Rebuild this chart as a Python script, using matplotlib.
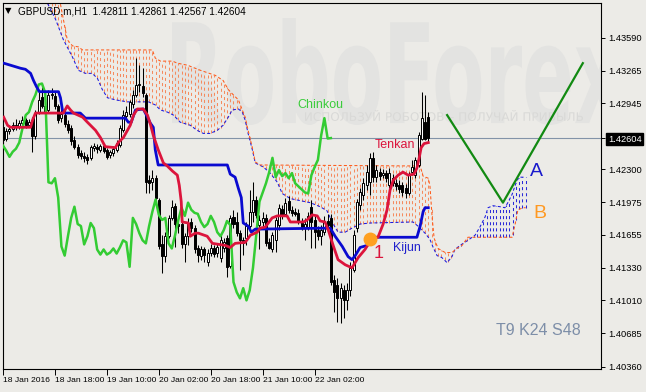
import numpy as np
import matplotlib
matplotlib.use("Agg")
import matplotlib.pyplot as plt
from matplotlib.textpath import TextPath
from matplotlib.patches import PathPatch
from matplotlib.font_manager import FontProperties
from matplotlib.transforms import Affine2D

plt.rcParams['font.family'] = ['Liberation Sans', 'DejaVu Sans']
plt.rcParams['lines.scale_dashes'] = False

SHIFT = 30

# hourly candles, GBPUSD
opens = [1.4271, 1.4260, 1.4267, 1.4269, 1.4273, 1.4271, 1.4275, 1.4278, 1.4273, 1.4278,
         1.4262, 1.4286, 1.4301, 1.4292, 1.4288, 1.4303, 1.4302, 1.4292, 1.4280, 1.4283,
         1.4274, 1.4270, 1.4259, 1.4252, 1.4246, 1.4243, 1.4242, 1.4241, 1.4251, 1.4252,
         1.4249, 1.4253, 1.4249, 1.4244, 1.4246, 1.4249, 1.4254, 1.4268, 1.4282, 1.4284,
         1.4294, 1.4303, 1.4313, 1.4312, 1.4303, 1.4219, 1.4217, 1.4221, 1.4200, 1.4156,
         1.4145, 1.4164, 1.4182, 1.4194, 1.4176, 1.4176, 1.4156, 1.4164, 1.4178, 1.4172,
         1.4152, 1.4145, 1.4151, 1.4139, 1.4148, 1.4152, 1.4148, 1.4143, 1.4152, 1.4162,
         1.4135, 1.4183, 1.4178, 1.4167, 1.4160, 1.4162, 1.4174, 1.4188, 1.4200, 1.4175,
         1.4178, 1.4182, 1.4158, 1.4151, 1.4160, 1.4175, 1.4191, 1.4186, 1.4199, 1.4190,
         1.4188, 1.4187, 1.4178, 1.4172, 1.4172, 1.4193, 1.4180, 1.4170, 1.4164, 1.4168,
         1.4179, 1.4182, 1.4121, 1.4116, 1.4103, 1.4111, 1.4101, 1.4111, 1.4131, 1.4172,
         1.4195, 1.4205, 1.4214, 1.4217, 1.4241, 1.4222, 1.4227, 1.4224, 1.4226, 1.4214,
         1.4221, 1.4216, 1.4214, 1.4214, 1.4211, 1.4206, 1.4227, 1.4224, 1.4234, 1.4260,
         1.4276, 1.42811]
highs = [1.4274, 1.4270, 1.4273, 1.4276, 1.4279, 1.4278, 1.4282, 1.4280, 1.4279, 1.4281,
         1.4288, 1.4306, 1.4311, 1.4300, 1.4308, 1.4310, 1.4306, 1.4294, 1.4290, 1.4288,
         1.4278, 1.4273, 1.4262, 1.4255, 1.4249, 1.4247, 1.4245, 1.4254, 1.4256, 1.4255,
         1.4255, 1.4256, 1.4251, 1.4249, 1.4253, 1.4259, 1.4273, 1.4288, 1.4292, 1.4298,
         1.4308, 1.4339, 1.4332, 1.4329, 1.4305, 1.4224, 1.4229, 1.4224, 1.4202, 1.4165,
         1.4168, 1.4185, 1.4200, 1.4197, 1.4180, 1.4180, 1.4167, 1.4182, 1.4182, 1.4175,
         1.4155, 1.4154, 1.4153, 1.4151, 1.4156, 1.4155, 1.4156, 1.4167, 1.4162, 1.4165,
         1.4185, 1.4190, 1.4188, 1.4170, 1.4163, 1.4178, 1.4209, 1.4217, 1.4204, 1.4185,
         1.4188, 1.4186, 1.4162, 1.4168, 1.4183, 1.4196, 1.4195, 1.4202, 1.4204, 1.4194,
         1.4192, 1.4191, 1.4182, 1.4182, 1.4188, 1.4200, 1.4185, 1.4174, 1.4175, 1.4184,
         1.4186, 1.4186, 1.4126, 1.4123, 1.4118, 1.4116, 1.4118, 1.4139, 1.4170, 1.4201,
         1.4211, 1.4221, 1.4234, 1.4246, 1.4247, 1.4234, 1.4231, 1.4230, 1.4229, 1.4231,
         1.4225, 1.4220, 1.4219, 1.4217, 1.4215, 1.4227, 1.4239, 1.4242, 1.4266, 1.4306,
         1.4303, 1.42861]
lows = [1.4253, 1.4258, 1.4264, 1.4267, 1.4268, 1.4269, 1.4272, 1.4270, 1.4271, 1.4247,
        1.4260, 1.4284, 1.4290, 1.4283, 1.4286, 1.4299, 1.4289, 1.4275, 1.4276, 1.4271,
        1.4265, 1.4254, 1.4250, 1.4241, 1.4240, 1.4237, 1.4235, 1.4239, 1.4248, 1.4246,
        1.4247, 1.4246, 1.4240, 1.4241, 1.4243, 1.4247, 1.4252, 1.4266, 1.4279, 1.4281,
        1.4290, 1.4301, 1.4306, 1.4301, 1.4206, 1.4206, 1.4209, 1.4200, 1.4151, 1.4128,
        1.4139, 1.4162, 1.4180, 1.4153, 1.4167, 1.4152, 1.4139, 1.4155, 1.4168, 1.4148,
        1.4139, 1.4141, 1.4139, 1.4135, 1.4145, 1.4144, 1.4144, 1.4139, 1.4149, 1.4124,
        1.4133, 1.4172, 1.4164, 1.4131, 1.4146, 1.4155, 1.4172, 1.4178, 1.4182, 1.4151,
        1.4172, 1.4154, 1.4151, 1.4149, 1.4149, 1.4170, 1.4181, 1.4184, 1.4187, 1.4184,
        1.4184, 1.4176, 1.4170, 1.4160, 1.4170, 1.4152, 1.4152, 1.4160, 1.4155, 1.4165,
        1.4168, 1.4116, 1.4090, 1.4080, 1.4079, 1.4084, 1.4092, 1.4105, 1.4129, 1.4168,
        1.4190, 1.4200, 1.4209, 1.4205, 1.4217, 1.4217, 1.4219, 1.4221, 1.4217, 1.4211,
        1.4213, 1.4209, 1.4206, 1.4204, 1.4202, 1.4205, 1.4224, 1.4221, 1.4232, 1.4259,
        1.4259, 1.42567]
closes = [1.4259, 1.4267, 1.4269, 1.4273, 1.4271, 1.4275, 1.4278, 1.4273, 1.4276, 1.4262,
          1.4285, 1.4298, 1.4292, 1.4286, 1.4303, 1.4304, 1.4292, 1.4278, 1.4284, 1.4274,
          1.4268, 1.4258, 1.4252, 1.4244, 1.4243, 1.4241, 1.4239, 1.4252, 1.4253, 1.4250,
          1.4253, 1.4248, 1.4242, 1.4247, 1.4250, 1.4256, 1.4270, 1.4283, 1.4286, 1.4296,
          1.4303, 1.4313, 1.4314, 1.4305, 1.4217, 1.4216, 1.4221, 1.4202, 1.4154, 1.4145,
          1.4164, 1.4182, 1.4193, 1.4176, 1.4174, 1.4156, 1.4164, 1.4177, 1.4172, 1.4151,
          1.4146, 1.4151, 1.4146, 1.4148, 1.4152, 1.4147, 1.4153, 1.4160, 1.4158, 1.4134,
          1.4182, 1.4176, 1.4167, 1.4160, 1.4157, 1.4174, 1.4188, 1.4200, 1.4185, 1.4180,
          1.4182, 1.4157, 1.4152, 1.4165, 1.4180, 1.4192, 1.4184, 1.4197, 1.4190, 1.4187,
          1.4186, 1.4178, 1.4173, 1.4176, 1.4184, 1.4178, 1.4168, 1.4164, 1.4170, 1.4179,
          1.4175, 1.4119, 1.4109, 1.4103, 1.4113, 1.4101, 1.4111, 1.4133, 1.4165, 1.4198,
          1.4207, 1.4216, 1.4227, 1.4241, 1.4222, 1.4229, 1.4223, 1.4226, 1.4221, 1.4226,
          1.4216, 1.4213, 1.4210, 1.4207, 1.4206, 1.4224, 1.4232, 1.4239, 1.4263, 1.4280,
          1.4260, 1.42604]

# ichimoku lines (bar index, price)
tenkan_x = [0.2, 1.4, 2.3, 8.5, 9.1, 10.0, 18.6, 19.8, 20.8, 21.7, 24.5, 26.0, 28.5, 30.0, 31.5,
            34.6, 35.5, 37.1, 39.2, 40.2, 41.4, 43.2, 44.5, 45.4, 46.3, 47.8, 49.4, 50.6, 52.2, 53.7,
            54.3, 54.9, 55.2, 57.1, 57.7, 59.2, 60.2, 62.9, 64.5, 68.5, 70.0, 71.5, 74.6, 76.2, 78.3,
            79.2, 80.8, 82.9, 84.5, 87.5, 88.5, 92.5, 93.7, 95.2, 96.8, 97.7, 99.2, 100.2, 101.7, 103.2,
            105.4, 107.5, 109.4, 111.5, 113.7, 115.5, 117.1, 118.3, 119.2, 120.2, 121.7, 123.2, 124.8,
            126.6, 127.5, 128.2, 128.8, 129.7, 131.0]
tenkan = [1.4281, 1.4273, 1.4271, 1.4271, 1.4278, 1.4285, 1.4285, 1.4292, 1.4288, 1.4285, 1.4281,
          1.4276, 1.4268, 1.4261, 1.4252, 1.4251, 1.4256, 1.4261, 1.4273, 1.4283, 1.4289, 1.4289,
          1.4283, 1.4274, 1.4263, 1.4249, 1.4236, 1.4233, 1.4228, 1.4224, 1.4214, 1.4198, 1.4178,
          1.4177, 1.4164, 1.4167, 1.4167, 1.4164, 1.4157, 1.4155, 1.4153, 1.4157, 1.4158, 1.4165,
          1.4168, 1.4172, 1.4173, 1.4182, 1.4184, 1.4184, 1.4178, 1.4178, 1.4180, 1.4185, 1.4184,
          1.4179, 1.4178, 1.4170, 1.4155, 1.4141, 1.4136, 1.4133, 1.4143, 1.4151, 1.4162, 1.4163,
          1.4176, 1.4190, 1.4209, 1.4219, 1.4224, 1.4227, 1.4224, 1.4225, 1.4231, 1.4241, 1.4251,
          1.4255, 1.4256]

kijun_x = [0.2, 2.3, 5.4, 6.9, 8.5, 9.4, 10.3, 11.2, 17.1, 17.7, 18.3, 18.9, 23.8, 25.4, 37.7,
           38.6, 39.5, 40.8, 43.2, 44.5, 45.4, 46.3, 46.9, 47.8, 69.1, 70.0, 71.5, 72.5, 73.4, 74.0,
           75.5, 76.5, 77.7, 100.8, 102.3, 104.5, 106.3, 107.5, 108.5, 110.0, 112.2, 113.7, 127.5,
           128.5, 129.4, 130.0, 131.0]
kijun = [1.4334, 1.4332, 1.4329, 1.4328, 1.4324, 1.4317, 1.4311, 1.4306, 1.4306, 1.4300, 1.4288,
         1.4285, 1.4285, 1.4280, 1.4280, 1.4276, 1.4276, 1.4288, 1.4289, 1.4281, 1.4275, 1.4271,
         1.4249, 1.4234, 1.4234, 1.4225, 1.4222, 1.4211, 1.4202, 1.4177, 1.4174, 1.4168, 1.4171,
         1.4172, 1.4164, 1.4154, 1.4144, 1.4141, 1.4145, 1.4153, 1.4155, 1.4163, 1.4163, 1.4174,
         1.4188, 1.4192, 1.4192]

span_a_x = [0, 8.5, 11.5, 14.0, 16.2, 18.6, 21.4, 23.2, 25.4, 27.5, 29.1, 30.6, 32.2, 34.6, 38.3,
            44.8, 46.9, 48.5, 50.6, 52.5, 54.6, 57.7, 59.8, 61.7, 63.8, 66.0, 67.8, 69.4, 70.6, 72.5,
            73.7, 74.6, 75.5, 76.8, 77.7, 80.2, 82.3, 84.5, 86.0, 88.5, 91.5, 94.6, 97.7, 99.8, 101.7,
            103.2, 105.4, 107.5, 110.0, 113.1, 126.3, 127.8, 130.0, 131.5, 132.5, 133.7, 135.2, 136.8,
            138.3, 139.2, 140.8, 143.2, 145.4, 146.9, 148.5, 149.4, 150.9, 153.1, 154.6, 155.5, 156.8,
            158.3, 159.2, 161.0]
span_a = [1.4477, 1.4437, 1.4405, 1.4391, 1.4377, 1.4357, 1.4340, 1.4327, 1.4324, 1.4324, 1.4319,
          1.4308, 1.4300, 1.4298, 1.4296, 1.4296, 1.4293, 1.4288, 1.4286, 1.4283, 1.4276, 1.4273,
          1.4268, 1.4265, 1.4265, 1.4268, 1.4273, 1.4281, 1.4288, 1.4289, 1.4286, 1.4278, 1.4265,
          1.4249, 1.4236, 1.4232, 1.4226, 1.4217, 1.4206, 1.4201, 1.4199, 1.4197, 1.4193, 1.4189,
          1.4176, 1.4168, 1.4168, 1.4172, 1.4176, 1.4177, 1.4178, 1.4174, 1.4167, 1.4161, 1.4153,
          1.4145, 1.4143, 1.4138, 1.4144, 1.4151, 1.4155, 1.4160, 1.4165, 1.4173, 1.4183, 1.4192,
          1.4194, 1.4193, 1.4192, 1.4197, 1.4205, 1.4219, 1.4222, 1.4222]

span_b_x = [0, 14.6, 17.1, 18.3, 19.5, 19.8, 21.4, 23.2, 24.5, 46.0, 46.9, 48.5, 52.2, 53.7, 56.8,
            60.8, 65.4, 67.8, 69.4, 70.9, 72.5, 73.7, 74.6, 75.5, 76.8, 77.7, 79.2, 128.5, 129.4,
            131.0, 131.5, 132.2, 132.8, 134.0, 136.2, 138.3, 139.8, 141.4, 143.2, 156.8, 157.7,
            158.6, 160.2, 161.0]
span_b = [1.4497, 1.4437, 1.4402, 1.4382, 1.4362, 1.4357, 1.4351, 1.4350, 1.4347, 1.4347, 1.4339,
          1.4336, 1.4336, 1.4334, 1.4332, 1.4327, 1.4322, 1.4317, 1.4308, 1.4303, 1.4298, 1.4288,
          1.4281, 1.4268, 1.4251, 1.4237, 1.4234, 1.4233, 1.4223, 1.4221, 1.4214, 1.4182, 1.4162,
          1.4152, 1.4148, 1.4148, 1.4152, 1.4155, 1.4163, 1.4163, 1.4175, 1.4190, 1.4192, 1.4192]

# forecast drawn on the chart
forecast_x = [136.8, 154.0, 178.6]
forecast_y = [1.4283, 1.4197, 1.4334]

last_price = 1.42604
ytick_vals = [1.43590, 1.43265, 1.42945, 1.42604, 1.42300, 1.41975, 1.41655,
              1.41330, 1.41010, 1.40685, 1.40360]
xtick_idx = [0, 16, 32, 48, 64, 80, 96]
xtick_labels = ["18 Jan 2016", "18 Jan 18:00", "19 Jan 10:00", "20 Jan 02:00",
                "20 Jan 18:00", "21 Jan 10:00", "22 Jan 02:00"]

BG = '#ecebe7'
W, H = 646, 392

fig = plt.figure(figsize=(W / 100, H / 100), dpi=100, facecolor=BG)
ax = fig.add_axes([3 / W, 23 / H, 598 / W, 366 / H], facecolor=BG)

# watermark
wm = TextPath((0, 0), "RoboForex", size=100,
              prop=FontProperties(family="DejaVu Sans", weight="bold"))
bb = wm.get_extents()
tr = Affine2D().translate(-bb.x0, -bb.y0).scale(450 / bb.width, 107 / bb.height).translate(172, H - 125)
ax.add_patch(PathPatch(wm, transform=tr, facecolor='#e3e3e1', edgecolor='none', zorder=0))
wm2 = TextPath((0, 0), "ИСПОЛЬЗУЙ РОБОТОВ – ПОЛУЧАЙ ПРИБЫЛЬ", size=100,
               prop=FontProperties(family="DejaVu Sans"))
bb2 = wm2.get_extents()
tr2 = Affine2D().translate(-bb2.x0, -bb2.y0).scale(278 / bb2.width, 11 / bb2.height).translate(305, H - 121)
ax.add_patch(PathPatch(wm2, transform=tr2, facecolor='#d9d9d7', edgecolor='none', zorder=0))

idx = np.arange(len(closes))
o = np.array(opens)
c = np.array(closes)

# cloud hatch
bars = np.arange(0, 162)
a = np.interp(bars, span_a_x, span_a)
b = np.interp(bars, span_b_x, span_b)
up = b >= a
ax.vlines(bars[up], a[up], b[up], colors='#f58a5e', lw=0.75, linestyles=(0, (2.2, 2.2)), zorder=1)
ax.vlines(bars[~up], b[~up], a[~up], colors='#2a2ad8', lw=0.75, linestyles=(0, (2.2, 2.2)), zorder=1)
ax.plot(span_a_x, span_a, color='#1a1ae0', lw=0.75, ls=(0, (2.2, 1.6)), zorder=2)
ax.plot(span_b_x, span_b, color='#ff5a1a', lw=0.75, ls=(0, (2.2, 1.6)), zorder=2)

ax.axhline(last_price, color='#8293a8', lw=0.8, zorder=1.5)

# candles
ax.vlines(idx, lows, highs, color='black', lw=0.75, zorder=3)
bull = c >= o
ax.bar(idx[bull], c[bull] - o[bull], bottom=o[bull], width=0.62, color='white',
       edgecolor='black', lw=0.7, zorder=3.2)
ax.bar(idx[~bull], o[~bull] - c[~bull], bottom=c[~bull], width=0.62, color='black',
       edgecolor='black', lw=0.7, zorder=3.2)

# tenkan / kijun / chinkou
ax.plot(idx[SHIFT:] - SHIFT, c[SHIFT:], color='#33cc33', lw=1.8, zorder=4)
ax.plot(kijun_x, kijun, color='#0a0ad0', lw=2.0, zorder=4.1)
ax.plot(tenkan_x, tenkan, color='#dc143c', lw=2.0, zorder=4.2)

ax.plot(forecast_x, forecast_y, color='#128a12', lw=1.6, zorder=5)
ax.plot([113.1], [1.4161], 'o', ms=9, color='#ffa020', zorder=4.5)

ax.text(97.7, 1.4293, "Chinkou", color='#3ccc3c', fontsize=9, ha='center', va='center', zorder=6)
ax.text(120.8, 1.4254, "Tenkan", color='#dc143c', fontsize=9, ha='center', va='center', zorder=6)
ax.text(124.5, 1.4152, "Kijun", color='#2020cc', fontsize=9, ha='center', va='center', zorder=6)
ax.text(115.8, 1.4147, "1", color='#dc143c', fontsize=13, ha='center', va='center', zorder=6)
ax.text(164.2, 1.4228, "A", color='#1a1acc', fontsize=14, ha='center', va='center', zorder=6)
ax.text(165.4, 1.4186, "B", color='#ff9922', fontsize=14, ha='center', va='center', zorder=6)
ax.text(0.895, 0.105, "T9 K24 S48", color='#7d8ea8', fontsize=11.5, ha='center', va='center',
        transform=ax.transAxes, zorder=6)

ax.set_xlim(0.15, 184.2)
ax.set_ylim(1.40336, 1.43931)

for s in ax.spines.values():
    s.set_color('black')
    s.set_linewidth(0.8)

ax.yaxis.tick_right()
ax.set_yticks(ytick_vals)
ax.set_yticklabels([f"{v:.5f}" for v in ytick_vals])
ax.tick_params(axis='y', length=3, width=0.7, pad=2, labelsize=6.7, colors='black')
for lab in ax.get_yticklabels():
    if lab.get_text() == "1.42604":
        lab.set_color('white')
        lab.set_bbox(dict(facecolor='black', edgecolor='black', pad=1.2))

ax.set_xticks(xtick_idx)
ax.set_xticklabels(xtick_labels, ha='left')
ax.tick_params(axis='x', length=4, width=0.7, pad=2, labelsize=6.1)

fig.text(5 / W, 1 - 11 / H, "▼", fontsize=6, va='center', family=['DejaVu Sans'])
fig.text(18 / W, 1 - 11 / H, "GBPUSD.m,H1  1.42811 1.42861 1.42567 1.42604",
         fontsize=7.2, va='center', color='black')

fig.savefig("out.png", dpi=100, facecolor=BG)
